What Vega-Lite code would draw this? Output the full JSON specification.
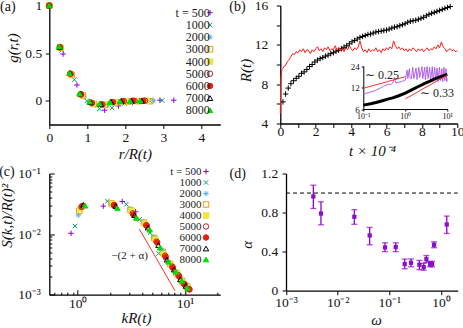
{
 "$schema": "https://vega.github.io/schema/vega-lite/v6.json",
 "autosize": {"type": "none"},
 "padding": {"left": 49.3, "top": 5.5, "right": 413.7, "bottom": 322.5},
 "background": "white",
 "config": {
  "view": {"stroke": null},
  "font": "Liberation Serif",
  "axis": {"domainColor": "black", "domainWidth": 1.3, "tickColor": "black", "tickWidth": 1, "tickSize": 4,
   "labelFont": "Liberation Serif", "labelFontSize": 13.5, "labelColor": "#111", "titleFont": "Liberation Serif",
   "titleFontSize": 15, "titleFontStyle": "italic", "titleFontWeight": "normal", "titleColor": "#111", "grid": false,
   "labelPadding": 2, "titleAlign": "center", "titleBaseline": "middle", "labelFlush": false, "labelOverlap": false}
 },
 "datasets": {
  "one": [{}],
  "pa": [
   {"t":500,"r":0,"g":1},{"t":500,"r":0.364,"g":0.49},{"t":500,"r":0.728,"g":0.165},{"t":500,"r":1.092,"g":-0.02},{"t":500,"r":1.456,"g":-0.1},{"t":500,"r":1.82,"g":-0.055},{"t":500,"r":2.184,"g":-0.02},{"t":500,"r":2.548,"g":-0.005},{"t":500,"r":2.912,"g":0.005},{"t":500,"r":3.276,"g":0.005},
   {"t":1000,"r":0,"g":1},{"t":1000,"r":0.33,"g":0.53},{"t":1000,"r":0.66,"g":0.22},{"t":1000,"r":0.99,"g":0.0},{"t":1000,"r":1.32,"g":-0.085},{"t":1000,"r":1.65,"g":-0.075},{"t":1000,"r":1.98,"g":-0.03},{"t":1000,"r":2.31,"g":-0.012},{"t":1000,"r":2.64,"g":0},{"t":1000,"r":2.97,"g":0.003},
   {"t":2000,"r":0,"g":1},{"t":2000,"r":0.305,"g":0.55},{"t":2000,"r":0.61,"g":0.26},{"t":2000,"r":0.915,"g":0.04},{"t":2000,"r":1.22,"g":-0.045},{"t":2000,"r":1.525,"g":-0.05},{"t":2000,"r":1.83,"g":-0.02},{"t":2000,"r":2.135,"g":-0.01},{"t":2000,"r":2.44,"g":-0.003},{"t":2000,"r":2.745,"g":0},
   {"t":3000,"r":0,"g":1},{"t":3000,"r":0.295,"g":0.555},{"t":3000,"r":0.59,"g":0.27},{"t":3000,"r":0.885,"g":0.055},{"t":3000,"r":1.18,"g":-0.035},{"t":3000,"r":1.475,"g":-0.045},{"t":3000,"r":1.77,"g":-0.018},{"t":3000,"r":2.065,"g":-0.008},{"t":3000,"r":2.36,"g":-0.005},{"t":3000,"r":2.655,"g":-0.005},
   {"t":4000,"r":0,"g":1},{"t":4000,"r":0.285,"g":0.56},{"t":4000,"r":0.57,"g":0.275},{"t":4000,"r":0.855,"g":0.06},{"t":4000,"r":1.14,"g":-0.03},{"t":4000,"r":1.425,"g":-0.04},{"t":4000,"r":1.71,"g":-0.015},{"t":4000,"r":1.995,"g":-0.005},{"t":4000,"r":2.28,"g":-0.003},{"t":4000,"r":2.565,"g":0},
   {"t":5000,"r":0,"g":1},{"t":5000,"r":0.28,"g":0.56},{"t":5000,"r":0.56,"g":0.28},{"t":5000,"r":0.84,"g":0.065},{"t":5000,"r":1.12,"g":-0.025},{"t":5000,"r":1.4,"g":-0.04},{"t":5000,"r":1.68,"g":-0.015},{"t":5000,"r":1.96,"g":-0.005},{"t":5000,"r":2.24,"g":-0.002},{"t":5000,"r":2.52,"g":0},
   {"t":6000,"r":0,"g":1},{"t":6000,"r":0.275,"g":0.565},{"t":6000,"r":0.55,"g":0.285},{"t":6000,"r":0.825,"g":0.07},{"t":6000,"r":1.1,"g":-0.02},{"t":6000,"r":1.375,"g":-0.04},{"t":6000,"r":1.65,"g":-0.015},{"t":6000,"r":1.925,"g":-0.005},{"t":6000,"r":2.2,"g":0},{"t":6000,"r":2.475,"g":0},
   {"t":7000,"r":0,"g":1},{"t":7000,"r":0.27,"g":0.565},{"t":7000,"r":0.54,"g":0.29},{"t":7000,"r":0.81,"g":0.075},{"t":7000,"r":1.08,"g":-0.015},{"t":7000,"r":1.35,"g":-0.035},{"t":7000,"r":1.62,"g":-0.012},{"t":7000,"r":1.89,"g":-0.004},{"t":7000,"r":2.16,"g":0},{"t":7000,"r":2.43,"g":0},
   {"t":8000,"r":0,"g":1},{"t":8000,"r":0.265,"g":0.57},{"t":8000,"r":0.53,"g":0.29},{"t":8000,"r":0.795,"g":0.075},{"t":8000,"r":1.06,"g":-0.01},{"t":8000,"r":1.325,"g":-0.03},{"t":8000,"r":1.59,"g":-0.015},{"t":8000,"r":1.855,"g":-0.008},{"t":8000,"r":2.12,"g":-0.005},{"t":8000,"r":2.385,"g":0}
  ],
  "pbm": [
   {"t":0.15,"R":6.2},{"t":0.3,"R":7.0},{"t":0.45,"R":7.6},{"t":0.6,"R":8.05},{"t":0.75,"R":8.35},{"t":0.9,"R":8.6},{"t":1.05,"R":8.8},{"t":1.2,"R":9.1},{"t":1.35,"R":9.25},{"t":1.5,"R":9.5},{"t":1.65,"R":9.8},{"t":1.8,"R":10.0},{"t":1.95,"R":10.25},{"t":2.1,"R":10.45},{"t":2.25,"R":10.6},{"t":2.4,"R":10.7},{"t":2.55,"R":10.85},{"t":2.7,"R":10.95},{"t":2.85,"R":11.1},{"t":3.0,"R":11.2},{"t":3.15,"R":11.35},{"t":3.3,"R":11.45},{"t":3.45,"R":11.6},{"t":3.6,"R":11.75},{"t":3.75,"R":11.9},{"t":3.9,"R":12.1},{"t":4.05,"R":12.3},{"t":4.2,"R":12.45},{"t":4.35,"R":12.6},{"t":4.5,"R":12.75},{"t":4.65,"R":12.85},{"t":4.8,"R":12.95},{"t":4.95,"R":13.05},{"t":5.1,"R":13.1},{"t":5.25,"R":13.2},{"t":5.4,"R":13.3},{"t":5.55,"R":13.35},{"t":5.7,"R":13.4},{"t":5.85,"R":13.45},{"t":6.0,"R":13.5},{"t":6.15,"R":13.6},{"t":6.3,"R":13.7},{"t":6.45,"R":13.8},{"t":6.6,"R":13.85},{"t":6.75,"R":13.95},{"t":6.9,"R":14.05},{"t":7.05,"R":14.15},{"t":7.2,"R":14.3},{"t":7.35,"R":14.4},{"t":7.5,"R":14.45},{"t":7.65,"R":14.5},{"t":7.8,"R":14.6},{"t":7.95,"R":14.7},{"t":8.1,"R":14.8},{"t":8.25,"R":14.95},{"t":8.4,"R":15.1},{"t":8.55,"R":15.2},{"t":8.7,"R":15.3},{"t":8.85,"R":15.4},{"t":9.0,"R":15.5},{"t":9.15,"R":15.6},{"t":9.3,"R":15.7},{"t":9.45,"R":15.8},{"t":9.6,"R":15.9}
  ],
  "pbr": [
   {"t":0.0,"R":5.0},{"t":0.02,"R":7.5},{"t":0.04,"R":8.6},{"t":0.07,"R":9.2},{"t":0.1,"R":9.5},{"t":0.15,"R":9.6},{"t":0.2,"R":9.8},{"t":0.3,"R":9.9},{"t":0.4,"R":10.3},{"t":0.5,"R":10.5},{"t":0.6,"R":10.8},{"t":0.7,"R":11.1},{"t":0.8,"R":11.0},{"t":0.9,"R":11.3},{"t":1.0,"R":11.2},{"t":1.1,"R":11.5},{"t":1.2,"R":11.3},{"t":1.3,"R":11.6},{"t":1.4,"R":11.2},{"t":1.5,"R":11.5},{"t":1.6,"R":11.4},{"t":1.7,"R":11.1},{"t":1.8,"R":11.5},{"t":1.9,"R":11.3},{"t":2.0,"R":11.6},{"t":2.1,"R":11.8},{"t":2.2,"R":11.4},{"t":2.3,"R":11.6},{"t":2.4,"R":11.3},{"t":2.5,"R":11.7},{"t":2.6,"R":11.5},{"t":2.7,"R":11.8},{"t":2.8,"R":11.4},{"t":2.9,"R":11.6},{"t":3.0,"R":11.5},{"t":3.1,"R":11.9},{"t":3.2,"R":11.5},{"t":3.3,"R":11.7},{"t":3.4,"R":11.4},{"t":3.5,"R":11.6},{"t":3.6,"R":11.3},{"t":3.7,"R":11.7},{"t":3.8,"R":11.5},{"t":3.9,"R":11.9},{"t":4.0,"R":11.6},{"t":4.1,"R":11.4},{"t":4.2,"R":11.7},{"t":4.3,"R":11.5},{"t":4.4,"R":11.8},{"t":4.5,"R":12.4},{"t":4.6,"R":11.7},{"t":4.7,"R":11.3},{"t":4.8,"R":11.5},{"t":4.9,"R":11.2},{"t":5.0,"R":11.6},{"t":5.1,"R":11.3},{"t":5.2,"R":11.5},{"t":5.3,"R":11.4},{"t":5.4,"R":11.7},{"t":5.5,"R":11.3},{"t":5.6,"R":11.5},{"t":5.7,"R":11.2},{"t":5.8,"R":11.6},{"t":5.9,"R":11.4},{"t":6.0,"R":11.7},{"t":6.1,"R":11.5},{"t":6.2,"R":11.8},{"t":6.3,"R":11.6},{"t":6.4,"R":12.4},{"t":6.5,"R":11.9},{"t":6.6,"R":11.6},{"t":6.7,"R":11.8},{"t":6.8,"R":11.5},{"t":6.9,"R":11.7},{"t":7.0,"R":11.4},{"t":7.1,"R":11.6},{"t":7.2,"R":11.3},{"t":7.3,"R":11.6},{"t":7.4,"R":11.4},{"t":7.5,"R":11.7},{"t":7.6,"R":11.5},{"t":7.7,"R":11.3},{"t":7.8,"R":11.6},{"t":7.9,"R":11.4},{"t":8.0,"R":11.6},{"t":8.1,"R":11.3},{"t":8.2,"R":11.5},{"t":8.3,"R":11.7},{"t":8.4,"R":11.4},{"t":8.5,"R":11.6},{"t":8.6,"R":11.5},{"t":8.7,"R":11.8},{"t":8.8,"R":11.6},{"t":8.9,"R":12.0},{"t":9.0,"R":11.7},{"t":9.1,"R":12.3},{"t":9.2,"R":11.8},{"t":9.3,"R":11.6},{"t":9.4,"R":11.3},{"t":9.5,"R":11.5},{"t":9.6,"R":11.6},{"t":9.7,"R":11.4},{"t":9.8,"R":11.5},{"t":9.9,"R":11.3},{"t":10.0,"R":11.4}
  ],
  "insp": [
   {"x":0.1,"y":9.8},{"x":0.13,"y":10.1},{"x":0.17,"y":10.6},{"x":0.2,"y":11.0},{"x":0.25,"y":11.7},{"x":0.3,"y":12.5},{"x":0.35,"y":12.9},{"x":0.4,"y":13.3},{"x":0.45,"y":13.2},{"x":0.5,"y":13.8},{"x":0.55,"y":16.0},{"x":0.6,"y":13.9},{"x":0.7,"y":14.2},{"x":0.8,"y":14.5},{"x":0.9,"y":14.9},{"x":1.0,"y":15.2},{"x":1.1,"y":21},{"x":1.15,"y":16},{"x":1.25,"y":22},{"x":1.3,"y":16.5},{"x":1.4,"y":15.8},{"x":1.5,"y":23},{"x":1.6,"y":16},{"x":1.8,"y":22.5},{"x":1.9,"y":15.5},{"x":2.1,"y":23},{"x":2.2,"y":16.5},{"x":2.5,"y":23.5},{"x":2.6,"y":16},{"x":2.9,"y":23},{"x":3.0,"y":15.5},{"x":3.3,"y":23.5},{"x":3.5,"y":16},{"x":3.8,"y":23},{"x":4.0,"y":15},{"x":4.4,"y":23.5},{"x":4.6,"y":14.5},{"x":5.0,"y":23},{"x":5.3,"y":15},{"x":5.7,"y":22.5},{"x":6.0,"y":14.5},{"x":6.5,"y":23},{"x":6.9,"y":15},{"x":7.4,"y":22},{"x":7.8,"y":14.5},{"x":8.3,"y":23},{"x":8.8,"y":15},{"x":9.3,"y":22},{"x":9.7,"y":14.5},{"x":10,"y":16}
  ],
  "insb": [
   {"x":0.1,"y":6.8},{"x":0.15,"y":7.1},{"x":0.2,"y":7.4},{"x":0.3,"y":7.9},{"x":0.4,"y":8.3},{"x":0.5,"y":8.6},{"x":0.7,"y":9.2},{"x":1.0,"y":10.0},{"x":1.5,"y":11.3},{"x":2,"y":12.3},{"x":3,"y":13.8},{"x":4,"y":14.9},{"x":5,"y":15.8},{"x":7,"y":17.0},{"x":10,"y":18.3}
  ],
  "insr": [
   {"seg":"a","x":0.1,"y":11.7},{"seg":"a","x":1.0,"y":17.0},
   {"seg":"b","x":1.0,"y":8.3},{"seg":"b","x":10,"y":17.9}
  ],
  "pc": [
   {"t":500,"k":0.866,"s":0.0103},{"t":500,"k":1.732,"s":0.029},{"t":500,"k":2.598,"s":0.0345},{"t":500,"k":3.464,"s":0.0233},{"t":500,"k":4.33,"s":0.0135},{"t":500,"k":5.196,"s":0.0085},{"t":500,"k":6.062,"s":0.0054},{"t":500,"k":6.928,"s":0.0036},{"t":500,"k":7.794,"s":0.0026},{"t":500,"k":8.66,"s":0.002},{"t":500,"k":9.526,"s":0.0016},{"t":500,"k":10.39,"s":0.0013},
   {"t":1000,"k":0.944,"s":0.0136},{"t":1000,"k":1.888,"s":0.035},{"t":1000,"k":2.832,"s":0.031},{"t":1000,"k":3.776,"s":0.0175},{"t":1000,"k":4.72,"s":0.0105},{"t":1000,"k":5.664,"s":0.0048},{"t":1000,"k":6.608,"s":0.0041},{"t":1000,"k":7.552,"s":0.0029},{"t":1000,"k":8.496,"s":0.0021},{"t":1000,"k":9.44,"s":0.0017},{"t":1000,"k":10.38,"s":0.0013},
   {"t":2000,"k":1.013,"s":0.0206},{"t":2000,"k":2.026,"s":0.031},{"t":2000,"k":3.039,"s":0.026},{"t":2000,"k":4.052,"s":0.016},{"t":2000,"k":5.065,"s":0.009},{"t":2000,"k":6.078,"s":0.0054},{"t":2000,"k":7.091,"s":0.0034},{"t":2000,"k":8.104,"s":0.0024},{"t":2000,"k":9.117,"s":0.0018},{"t":2000,"k":10.13,"s":0.0014},
   {"t":3000,"k":1.035,"s":0.024},{"t":3000,"k":2.07,"s":0.032},{"t":3000,"k":3.105,"s":0.025},{"t":3000,"k":4.14,"s":0.0155},{"t":3000,"k":5.175,"s":0.0086},{"t":3000,"k":6.21,"s":0.0051},{"t":3000,"k":7.245,"s":0.0032},{"t":3000,"k":8.28,"s":0.0023},{"t":3000,"k":9.315,"s":0.0017},{"t":3000,"k":10.35,"s":0.00138},
   {"t":4000,"k":1.06,"s":0.026},{"t":4000,"k":2.12,"s":0.031},{"t":4000,"k":3.18,"s":0.024},{"t":4000,"k":4.24,"s":0.0148},{"t":4000,"k":5.3,"s":0.0081},{"t":4000,"k":6.36,"s":0.0047},{"t":4000,"k":7.42,"s":0.0031},{"t":4000,"k":8.48,"s":0.0022},{"t":4000,"k":9.54,"s":0.0016},{"t":4000,"k":10.6,"s":0.00133},
   {"t":5000,"k":1.085,"s":0.028},{"t":5000,"k":2.17,"s":0.030},{"t":5000,"k":3.255,"s":0.022},{"t":5000,"k":4.34,"s":0.014},{"t":5000,"k":5.425,"s":0.0075},{"t":5000,"k":6.51,"s":0.0044},{"t":5000,"k":7.595,"s":0.0029},{"t":5000,"k":8.68,"s":0.0021},{"t":5000,"k":9.765,"s":0.0015},{"t":5000,"k":10.85,"s":0.00125},
   {"t":6000,"k":1.1,"s":0.029},{"t":6000,"k":2.2,"s":0.030},{"t":6000,"k":3.3,"s":0.021},{"t":6000,"k":4.4,"s":0.0138},{"t":6000,"k":5.5,"s":0.0073},{"t":6000,"k":6.6,"s":0.0042},{"t":6000,"k":7.7,"s":0.0028},{"t":6000,"k":8.8,"s":0.002},{"t":6000,"k":9.9,"s":0.0015},{"t":6000,"k":11.0,"s":0.00122},
   {"t":7000,"k":1.13,"s":0.0305},{"t":7000,"k":2.26,"s":0.029},{"t":7000,"k":3.39,"s":0.0205},{"t":7000,"k":4.52,"s":0.0128},{"t":7000,"k":5.65,"s":0.0066},{"t":7000,"k":6.78,"s":0.0038},{"t":7000,"k":7.91,"s":0.0026},{"t":7000,"k":9.04,"s":0.0018},{"t":7000,"k":10.17,"s":0.0014},
   {"t":8000,"k":1.17,"s":0.0295},{"t":8000,"k":2.34,"s":0.027},{"t":8000,"k":3.51,"s":0.0185},{"t":8000,"k":4.68,"s":0.0118},{"t":8000,"k":5.85,"s":0.006},{"t":8000,"k":7.02,"s":0.0035},{"t":8000,"k":8.19,"s":0.0024},{"t":8000,"k":9.36,"s":0.0017},{"t":8000,"k":10.53,"s":0.0013}
  ],
  "pcl": [{"k":3.75,"s":0.0121},{"k":8.07,"s":0.00116}],
  "pd": [
   {"w":0.00338,"a":0.965,"lo":0.842,"hi":1.08},{"w":0.00475,"a":0.79,"lo":0.675,"hi":0.91},{"w":0.021,"a":0.757,"lo":0.68,"hi":0.83},{"w":0.0416,"a":0.566,"lo":0.47,"hi":0.648},{"w":0.0824,"a":0.443,"lo":0.40,"hi":0.49},{"w":0.133,"a":0.447,"lo":0.40,"hi":0.49},{"w":0.198,"a":0.273,"lo":0.225,"hi":0.324},{"w":0.262,"a":0.286,"lo":0.245,"hi":0.325},{"w":0.381,"a":0.266,"lo":0.215,"hi":0.31},{"w":0.462,"a":0.242,"lo":0.21,"hi":0.28},{"w":0.52,"a":0.324,"lo":0.29,"hi":0.36},{"w":0.612,"a":0.273,"lo":0.245,"hi":0.30},{"w":0.67,"a":0.273,"lo":0.245,"hi":0.30},{"w":0.733,"a":0.47,"lo":0.44,"hi":0.50},{"w":1.29,"a":0.678,"lo":0.586,"hi":0.764}
  ]
 },
 "bounds": "flush",
 "columns": 2,
 "spacing": {"row": 49, "column": 60},
 "resolve": {"scale": {"shape": "independent", "fill": "independent", "stroke": "independent"}},
 "concat": [
  {
   "width": 171, "height": 119,
   "layer": [
    {
     "data": {"name": "pa"},
     "mark": {"type": "point", "size": 30, "strokeWidth": 1, "opacity": 1, "filled": false},
     "encoding": {
      "x": {"field": "r", "type": "quantitative", "scale": {"domain": [0, 4.5], "nice": false, "zero": false},
       "axis": {"values": [0, 1, 2, 3, 4], "labelOverlap": false, "title": "r/R(t)", "titleX": 85.5, "titleY": 28.5, "labelPadding": 2.2}},
      "y": {"field": "g", "type": "quantitative", "scale": {"domain": [-0.25, 1], "nice": false, "zero": false},
       "axis": {"values": [0, 0.5, 1], "labelOverlap": false, "format": "~g", "title": "g(r,t)", "titleX": -37.3, "titleY": 42, "labelPadding": 3.6}},
      "shape": {"field": "t", "type": "nominal",
       "scale": {"domain": [500,1000,2000,3000,4000,5000,6000,7000,8000],
        "range": ["M-1,0L1,0M0,-1L0,1", "M-0.8,-0.8L0.8,0.8M-0.8,0.8L0.8,-0.8", "M-1,0L1,0M0,-1L0,1M-0.7,-0.7L0.7,0.7M-0.7,0.7L0.7,-0.7", "square", "square", "circle", "circle", "triangle-up", "triangle-up"]},
       "legend": {"title": null, "orient": "none", "legendX": 139.4, "legendY": 1.2, "labelAlign": "right", "labelOffset": -6.3, "symbolOffset": 15.3, "labelFontSize": 12, "labelFont": "Liberation Serif", "labelColor": "#222", "rowPadding": 0.2, "padding": 0, "symbolStrokeWidth": 1, "symbolSize": 30, "labelExpr": "datum.value == 500 ? 't = 500' : datum.label"}},
      "fill": {"field": "t", "type": "nominal",
       "scale": {"domain": [500,1000,2000,3000,4000,5000,6000,7000,8000],
        "range": ["transparent", "transparent", "#56b4e9", "transparent", "#f0e442", "transparent", "#e51e10", "transparent", "#00dd00"]},
       "legend": {"title": null, "orient": "none", "legendX": 139.4, "legendY": 1.2, "labelAlign": "right", "labelOffset": -6.3, "symbolOffset": 15.3, "labelFontSize": 12, "labelFont": "Liberation Serif", "labelColor": "#222", "rowPadding": 0.2, "padding": 0, "symbolStrokeWidth": 1, "symbolSize": 30, "labelExpr": "datum.value == 500 ? 't = 500' : datum.label"}},
      "stroke": {"field": "t", "type": "nominal",
       "scale": {"domain": [500,1000,2000,3000,4000,5000,6000,7000,8000],
        "range": ["#9400d3", "#009e73", "#56b4e9", "#e69f00", "#f0e442", "#b22222", "#e51e10", "#000000", "#00dd00"]},
       "legend": {"title": null, "orient": "none", "legendX": 139.4, "legendY": 1.2, "labelAlign": "right", "labelOffset": -6.3, "symbolOffset": 15.3, "labelFontSize": 12, "labelFont": "Liberation Serif", "labelColor": "#222", "rowPadding": 0.2, "padding": 0, "symbolStrokeWidth": 1, "symbolSize": 30, "labelExpr": "datum.value == 500 ? 't = 500' : datum.label"}}
     }
    },
    {
     "data": {"name": "one"},
     "mark": {"type": "text", "font": "Liberation Serif", "fontSize": 14, "align": "center", "baseline": "middle", "color": "#111"},
     "encoding": {"x": {"datum": -1.09, "type": "quantitative"}, "y": {"datum": 0.979, "type": "quantitative"}, "text": {"value": "(a)"}}
    }
   ]
  },
  {
   "width": 177, "height": 118,
   "layer": [
    {
     "layer": [
      {
       "data": {"name": "pbm"},
       "mark": {"type": "point", "shape": "M-1,0L1,0M0,-1L0,1", "size": 30, "stroke": "black", "strokeWidth": 1, "filled": false, "opacity": 1},
       "encoding": {
        "x": {"field": "t", "type": "quantitative", "scale": {"domain": [0, 10], "nice": false, "zero": false},
         "axis": {"values": [0,1,2,3,4,5,6,7,8,9,10], "labelExpr": "datum.value % 2 == 0 ? datum.label : ''", "labelOverlap": false, "title": "t × 10⁻⁴", "titleX": 91.7, "titleY": 27.2, "labelPadding": -2.8}},
        "y": {"field": "R", "type": "quantitative", "scale": {"domain": [4, 16], "nice": false, "zero": false},
         "axis": {"values": [4,6,8,10,12,14,16], "labelExpr": "datum.value % 4 == 0 ? datum.label : ''", "labelOverlap": false, "title": "R(t)", "titleX": -34.3, "titleY": 64.5, "labelPadding": 8.6}}
       }
      },
      {
       "data": {"name": "pbr"},
       "mark": {"type": "line", "color": "#ff1a1a", "strokeWidth": 1},
       "encoding": {
        "x": {"field": "t", "type": "quantitative",
         "axis": {"values": [0,1,2,3,4,5,6,7,8,9,10], "labelExpr": "datum.value % 2 == 0 ? datum.label : ''", "labelOverlap": false, "title": "t × 10⁻⁴", "titleX": 91.7, "titleY": 27.2, "labelPadding": -2.8}},
        "y": {"field": "R", "type": "quantitative",
         "axis": {"values": [4,6,8,10,12,14,16], "labelExpr": "datum.value % 4 == 0 ? datum.label : ''", "labelOverlap": false, "title": "R(t)", "titleX": -34.3, "titleY": 64.5, "labelPadding": 8.6}}
       }
      },
      {
       "data": {"name": "one"},
       "mark": {"type": "text", "font": "Liberation Serif", "fontSize": 14, "align": "center", "baseline": "middle", "color": "#111"},
       "encoding": {
        "x": {"datum": -2.42, "type": "quantitative",
         "axis": {"values": [0,1,2,3,4,5,6,7,8,9,10], "labelExpr": "datum.value % 2 == 0 ? datum.label : ''", "labelOverlap": false, "title": "t × 10⁻⁴", "titleX": 91.7, "titleY": 27.2, "labelPadding": -2.8}},
        "y": {"datum": 15.8, "type": "quantitative",
         "axis": {"values": [4,6,8,10,12,14,16], "labelExpr": "datum.value % 4 == 0 ? datum.label : ''", "labelOverlap": false, "title": "R(t)", "titleX": -34.3, "titleY": 64.5, "labelPadding": 8.6}},
        "text": {"value": "(b)"}}
      }
     ]
    },
    {
     "layer": [
      {
       "data": {"name": "insp"},
       "mark": {"type": "line", "color": "#a855e8", "strokeWidth": 0.9},
       "encoding": {
        "x": {"field": "x", "type": "quantitative", "scale": {"type": "log", "domain": [0.1, 10], "range": [83, 167], "nice": false},
         "axis": {"orient": "bottom", "offset": -14.5, "values": [0.1, 1, 10], "labelOverlap": false, "labelExpr": "datum.value == 0.1 ? '10⁻¹' : datum.value == 1 ? '10⁰' : '10¹'", "labelFontSize": 8, "tickSize": 2, "labelPadding": 1, "title": null, "domainWidth": 1}},
        "y": {"field": "y", "type": "quantitative", "scale": {"type": "log", "domain": [6, 24], "range": [103.5, 60.5], "nice": false},
         "axis": {"orient": "left", "offset": -83, "values": [6, 12, 24], "labelOverlap": false, "labelFontSize": 9, "tickSize": 2, "labelPadding": 2, "title": null, "domainWidth": 1}}
       }
      },
      {
       "data": {"name": "insb"},
       "mark": {"type": "line", "color": "black", "strokeWidth": 3},
       "encoding": {"x": {"field": "x", "type": "quantitative"}, "y": {"field": "y", "type": "quantitative"}}
      },
      {
       "data": {"name": "insr"},
       "mark": {"type": "line", "color": "#ff3030", "strokeWidth": 1},
       "encoding": {"x": {"field": "x", "type": "quantitative"}, "y": {"field": "y", "type": "quantitative"}, "detail": {"field": "seg"}}
      },
      {
       "data": {"name": "one"},
       "mark": {"type": "text", "font": "Liberation Serif", "fontSize": 12, "align": "left", "baseline": "middle", "color": "#222"},
       "encoding": {"x": {"datum": 0.11, "type": "quantitative"}, "y": {"datum": 17.9, "type": "quantitative"}, "text": {"value": "∼ 0.25"}}
      },
      {
       "data": {"name": "one"},
       "mark": {"type": "text", "font": "Liberation Serif", "fontSize": 12, "align": "left", "baseline": "middle", "color": "#222"},
       "encoding": {"x": {"datum": 2.24, "type": "quantitative"}, "y": {"datum": 9.96, "type": "quantitative"}, "text": {"value": "∼ 0.33"}}
      }
     ]
    }
   ],
   "resolve": {"scale": {"x": "independent", "y": "independent"}, "axis": {"x": "independent", "y": "independent"}}
  },
  {
   "width": 171, "height": 121.2,
   "layer": [
    {
     "data": {"name": "pc"},
     "mark": {"type": "point", "size": 30, "strokeWidth": 1, "opacity": 1, "filled": false},
     "encoding": {
      "x": {"field": "k", "type": "quantitative", "scale": {"type": "log", "domain": [0.5435, 21.3], "nice": false},
       "axis": {"values": [0.6,0.7,0.8,0.9,1,2,3,4,5,6,7,8,9,10,20], "labelOverlap": false, "labelExpr": "datum.value == 1 ? '10⁰' : datum.value == 10 ? '10¹' : ''",
        "tickSize": {"condition": {"test": "datum.value == 1 || datum.value == 10", "value": -5}, "value": -2.5},
        "title": "kR(t)", "titleX": 86.7, "titleY": 22.6, "labelPadding": 6.6}},
      "y": {"field": "s", "type": "quantitative", "scale": {"type": "log", "domain": [0.001, 0.1], "nice": false},
       "axis": {"values": [0.001,0.002,0.003,0.004,0.005,0.006,0.007,0.008,0.009,0.01,0.02,0.03,0.04,0.05,0.06,0.07,0.08,0.09,0.1], "labelOverlap": false,
        "labelExpr": "datum.value == 0.1 ? '10⁻¹' : datum.value == 0.01 ? '10⁻²' : datum.value == 0.001 ? '10⁻³' : ''",
        "tickSize": {"condition": {"test": "datum.value == 0.1 || datum.value == 0.01 || datum.value == 0.001", "value": -5}, "value": -2.5},
        "title": "S(k,t)/R(t)²", "titleX": -43.3, "titleY": 41.7, "labelPadding": 14}},
      "shape": {"field": "t", "type": "nominal",
       "scale": {"domain": [500,1000,2000,3000,4000,5000,6000,7000,8000],
        "range": ["M-1,0L1,0M0,-1L0,1", "M-0.8,-0.8L0.8,0.8M-0.8,0.8L0.8,-0.8", "M-1,0L1,0M0,-1L0,1M-0.7,-0.7L0.7,0.7M-0.7,0.7L0.7,-0.7", "square", "square", "circle", "circle", "triangle-up", "triangle-up"]},
       "legend": {"title": null, "orient": "none", "legendX": 134.7, "legendY": -7.5, "labelAlign": "right", "labelOffset": -10, "symbolOffset": 16.5, "labelFontSize": 11, "labelFont": "Liberation Serif", "labelColor": "#222", "rowPadding": -1.5, "padding": 0, "symbolStrokeWidth": 1, "symbolSize": 30, "labelExpr": "datum.value == 500 ? 't = 500' : datum.label"}},
      "fill": {"field": "t", "type": "nominal",
       "scale": {"domain": [500,1000,2000,3000,4000,5000,6000,7000,8000],
        "range": ["transparent", "transparent", "#56b4e9", "transparent", "#f0e442", "transparent", "#e51e10", "transparent", "#00dd00"]},
       "legend": {"title": null, "orient": "none", "legendX": 134.7, "legendY": -7.5, "labelAlign": "right", "labelOffset": -10, "symbolOffset": 16.5, "labelFontSize": 11, "labelFont": "Liberation Serif", "labelColor": "#222", "rowPadding": -1.5, "padding": 0, "symbolStrokeWidth": 1, "symbolSize": 30, "labelExpr": "datum.value == 500 ? 't = 500' : datum.label"}},
      "stroke": {"field": "t", "type": "nominal",
       "scale": {"domain": [500,1000,2000,3000,4000,5000,6000,7000,8000],
        "range": ["#9400d3", "#009e73", "#56b4e9", "#e69f00", "#f0e442", "#b22222", "#e51e10", "#000000", "#00dd00"]},
       "legend": {"title": null, "orient": "none", "legendX": 134.7, "legendY": -7.5, "labelAlign": "right", "labelOffset": -10, "symbolOffset": 16.5, "labelFontSize": 11, "labelFont": "Liberation Serif", "labelColor": "#222", "rowPadding": -1.5, "padding": 0, "symbolStrokeWidth": 1, "symbolSize": 30, "labelExpr": "datum.value == 500 ? 't = 500' : datum.label"}}
     }
    },
    {
     "data": {"name": "pcl"},
     "mark": {"type": "line", "color": "#ff3030", "strokeWidth": 1},
     "encoding": {"x": {"field": "k", "type": "quantitative"}, "y": {"field": "s", "type": "quantitative"}}
    },
    {
     "data": {"name": "one"},
     "mark": {"type": "text", "font": "Liberation Serif", "fontSize": 11, "align": "right", "baseline": "middle", "color": "#222"},
     "encoding": {"x": {"datum": 4.5, "type": "quantitative"}, "y": {"datum": 0.0044, "type": "quantitative"}, "text": {"value": "−(2 + α)"}}
    },
    {
     "data": {"name": "one"},
     "mark": {"type": "text", "font": "Liberation Serif", "fontSize": 14, "align": "center", "baseline": "middle", "color": "#111"},
     "encoding": {"x": {"datum": 0.219, "type": "quantitative"}, "y": {"datum": 0.107, "type": "quantitative"}, "text": {"value": "(c)"}}
    }
   ]
  },
  {
   "width": 177.4, "height": 117.2,
   "layer": [
    {
     "data": {"name": "pd"},
     "mark": {"type": "rule", "color": "#9400d3", "strokeWidth": 1.3},
     "encoding": {
      "x": {"field": "w", "type": "quantitative", "scale": {"type": "log", "domain": [0.001, 2.1], "range": [5.7, 177.4], "nice": false},
       "axis": {"values": [0.001, 0.01, 0.1, 1], "labelOverlap": false, "labelExpr": "datum.value == 0.001 ? '10⁻³' : datum.value == 0.01 ? '10⁻²' : datum.value == 0.1 ? '10⁻¹' : '10⁰'", "title": "ω", "titleX": 95.7, "titleY": 28.3, "labelPadding": 0.7}},
      "y": {"field": "lo", "type": "quantitative", "scale": {"domain": [0, 1.2], "nice": false, "zero": false},
       "axis": {"values": [0, 0.4, 0.8, 1.2], "labelOverlap": false, "format": "~g", "offset": -5.7, "title": "α", "titleX": -40, "titleY": 70.7, "labelPadding": 4.3}},
      "y2": {"field": "hi"}
     }
    },
    {
     "data": {"name": "pd"},
     "mark": {"type": "tick", "orient": "horizontal", "color": "#9400d3", "size": 6, "thickness": 1.3},
     "encoding": {
      "x": {"field": "w", "type": "quantitative",
       "axis": {"values": [0.001, 0.01, 0.1, 1], "labelOverlap": false, "labelExpr": "datum.value == 0.001 ? '10⁻³' : datum.value == 0.01 ? '10⁻²' : datum.value == 0.1 ? '10⁻¹' : '10⁰'", "title": "ω", "titleX": 95.7, "titleY": 28.3, "labelPadding": 0.7}},
      "y": {"field": "lo", "type": "quantitative",
       "axis": {"values": [0, 0.4, 0.8, 1.2], "labelOverlap": false, "format": "~g", "offset": -5.7, "title": "α", "titleX": -40, "titleY": 70.7, "labelPadding": 4.3}}
     }
    },
    {
     "data": {"name": "pd"},
     "mark": {"type": "tick", "orient": "horizontal", "color": "#9400d3", "size": 6, "thickness": 1.3},
     "encoding": {
      "x": {"field": "w", "type": "quantitative",
       "axis": {"values": [0.001, 0.01, 0.1, 1], "labelOverlap": false, "labelExpr": "datum.value == 0.001 ? '10⁻³' : datum.value == 0.01 ? '10⁻²' : datum.value == 0.1 ? '10⁻¹' : '10⁰'", "title": "ω", "titleX": 95.7, "titleY": 28.3, "labelPadding": 0.7}},
      "y": {"field": "hi", "type": "quantitative",
       "axis": {"values": [0, 0.4, 0.8, 1.2], "labelOverlap": false, "format": "~g", "offset": -5.7, "title": "α", "titleX": -40, "titleY": 70.7, "labelPadding": 4.3}}
     }
    },
    {
     "data": {"name": "pd"},
     "mark": {"type": "square", "size": 18, "color": "#8a10c8", "opacity": 1},
     "encoding": {
      "x": {"field": "w", "type": "quantitative",
       "axis": {"values": [0.001, 0.01, 0.1, 1], "labelOverlap": false, "labelExpr": "datum.value == 0.001 ? '10⁻³' : datum.value == 0.01 ? '10⁻²' : datum.value == 0.1 ? '10⁻¹' : '10⁰'", "title": "ω", "titleX": 95.7, "titleY": 28.3, "labelPadding": 0.7}},
      "y": {"field": "a", "type": "quantitative",
       "axis": {"values": [0, 0.4, 0.8, 1.2], "labelOverlap": false, "format": "~g", "offset": -5.7, "title": "α", "titleX": -40, "titleY": 70.7, "labelPadding": 4.3}}
     }
    },
    {
     "data": {"name": "one"},
     "mark": {"type": "rule", "color": "black", "strokeDash": [4, 3], "strokeWidth": 1},
     "encoding": {
      "x": {"datum": 0.001, "type": "quantitative",
       "axis": {"values": [0.001, 0.01, 0.1, 1], "labelOverlap": false, "labelExpr": "datum.value == 0.001 ? '10⁻³' : datum.value == 0.01 ? '10⁻²' : datum.value == 0.1 ? '10⁻¹' : '10⁰'", "title": "ω", "titleX": 95.7, "titleY": 28.3, "labelPadding": 0.7}},
      "x2": {"datum": 2.1},
      "y": {"datum": 1, "type": "quantitative",
       "axis": {"values": [0, 0.4, 0.8, 1.2], "labelOverlap": false, "format": "~g", "offset": -5.7, "title": "α", "titleX": -40, "titleY": 70.7, "labelPadding": 4.3}}
     }
    },
    {
     "data": {"name": "one"},
     "mark": {"type": "text", "font": "Liberation Serif", "fontSize": 14, "align": "center", "baseline": "middle", "color": "#111"},
     "encoding": {
      "x": {"datum": 0.000116, "type": "quantitative",
       "axis": {"values": [0.001, 0.01, 0.1, 1], "labelOverlap": false, "labelExpr": "datum.value == 0.001 ? '10⁻³' : datum.value == 0.01 ? '10⁻²' : datum.value == 0.1 ? '10⁻¹' : '10⁰'", "title": "ω", "titleX": 95.7, "titleY": 28.3, "labelPadding": 0.7}},
      "y": {"datum": 1.193, "type": "quantitative",
       "axis": {"values": [0, 0.4, 0.8, 1.2], "labelOverlap": false, "format": "~g", "offset": -5.7, "title": "α", "titleX": -40, "titleY": 70.7, "labelPadding": 4.3}},
      "text": {"value": "(d)"}}
    }
   ]
  }
 ]
}
